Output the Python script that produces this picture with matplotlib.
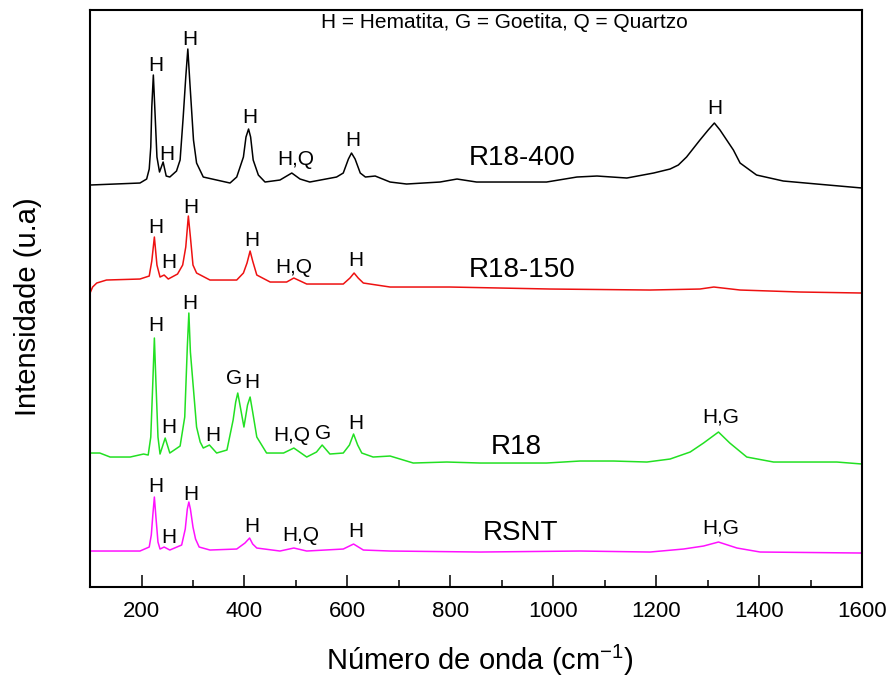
import matplotlib
matplotlib.use("Agg")
import matplotlib.pyplot as plt
from matplotlib.ticker import MultipleLocator

plt.rcParams['font.family'] = ['Liberation Sans', 'DejaVu Sans']
plt.rcParams['mathtext.fontset'] = 'custom'
plt.rcParams['mathtext.rm'] = 'Liberation Sans'
plt.rcParams['mathtext.it'] = 'Liberation Sans:italic'

# Raman spectra, vertically offset (wavenumber in cm-1, intensity in a.u.)
wn_r18_400 = [100, 197, 210, 215, 218, 220, 223, 226, 230, 235, 242, 248, 255, 268, 275,
              281, 286, 290, 294, 301, 307, 320, 372, 385, 398, 403, 408, 412, 417, 427,
              440, 469, 492, 508, 527, 579, 592, 602, 608, 615, 625, 635, 654, 683, 715,
              780, 813, 851, 922, 987, 1046, 1085, 1143, 1195, 1227, 1243, 1259, 1285,
              1301, 1313, 1324, 1337, 1350, 1363, 1395, 1447, 1512, 1600]
int_r18_400 = [402, 404, 408, 418, 440, 480, 512, 477, 430, 415, 425, 411, 410, 416, 427,
               470, 510, 538, 504, 447, 424, 410, 404, 410, 430, 450, 458, 450, 427, 412,
               405, 407, 414, 408, 405, 410, 414, 428, 434, 428, 414, 410, 411, 405, 403,
               405, 408, 405, 405, 405, 410, 411, 409, 414, 418, 422, 430, 447,
               457, 464, 457, 447, 437, 424, 412, 406, 403, 399]

wn_r18_150 = [100, 105, 113, 132, 197, 215, 220, 225, 230, 236, 244, 252, 270, 280, 286,
              291, 295, 300, 307, 333, 385, 398, 405, 411, 416, 424, 450, 482, 496, 521,
              592, 605, 613, 621, 631, 683, 799, 994, 1188, 1285, 1312, 1363, 1480, 1600]
int_r18_150 = [294, 300, 304, 307, 308, 311, 326, 350, 322, 310, 312, 308, 313, 322, 340,
               371, 350, 322, 314, 307, 307, 314, 324, 336, 326, 312, 305, 305, 309, 303,
               303, 309, 314, 309, 304, 300, 300, 298, 297, 298, 300, 297, 295, 294]

wn_r18 = [100, 119, 139, 178, 204, 213, 218, 222, 225, 228, 232, 236, 246, 255, 275,
          284, 289, 292, 295, 299, 303, 307, 314, 320, 332, 346, 366, 378, 383, 387,
          392, 399, 406, 411, 416, 424, 443, 476, 496, 521, 540, 551, 566, 592, 604,
          612, 620, 628, 650, 683, 728, 793, 858, 987, 1052, 1117, 1182, 1227, 1266,
          1292, 1321, 1343, 1376, 1428, 1551, 1600]
int_r18 = [134, 134, 130, 130, 133, 132, 150, 205, 249, 205, 150, 133, 149, 134, 141,
           170, 240, 274, 235, 210, 185, 160, 145, 139, 142, 134, 137, 167, 185, 194,
           180, 160, 182, 190, 175, 150, 134, 134, 139, 130, 135, 142, 133, 134, 142,
           153, 142, 134, 130, 131, 124, 125, 124, 124, 126, 126, 125, 128, 135,
           144, 155, 144, 130, 125, 125, 123]

wn_rsnt = [100, 197, 215, 219, 222, 225, 228, 232, 236, 244, 255, 278, 285, 289, 292,
           295, 300, 305, 312, 333, 385, 401, 410, 416, 424, 469, 496, 521, 592, 612,
           631, 683, 858, 1052, 1188, 1253, 1292, 1321, 1357, 1402, 1600]
int_rsnt = [36, 36, 40, 52, 72, 90, 70, 45, 38, 40, 37, 42, 58, 78, 85,
            78, 60, 48, 40, 37, 38, 44, 49, 43, 39, 36, 39, 36, 38, 43,
            37, 36, 35, 36, 35, 38, 41, 45, 39, 35, 34]

series_names = ['R18-400', 'R18-150', 'R18', 'RSNT']
series_colors = ['#000000', '#ee1111', '#22e022', '#ff11ff']

# Band assignments: (wavenumber, intensity, text)
bands_r18_400 = [(228, 522, 'H'), (250, 433, 'H'), (293, 548, 'H'), (411, 470, 'H'),
                 (500, 428, 'H,Q'), (610, 447, 'H'), (1314, 479, 'H')]
bands_r18_150 = [(228, 360, 'H'), (254, 325, 'H'), (296, 380, 'H'), (414, 347, 'H'),
                 (496, 320, 'H,Q'), (616, 327, 'H')]
bands_r18 = [(228, 262, 'H'), (293, 284, 'H'), (253, 160, 'H'), (338, 152, 'H'),
             (380, 209, 'G'), (414, 205, 'H'), (492, 152, 'H,Q'), (552, 154, 'G'),
             (616, 164, 'H'), (1325, 170, 'H,G')]
bands_rsnt = [(228, 101, 'H'), (253, 50, 'H'), (296, 93, 'H'), (415, 61, 'H'),
              (509, 52, 'H,Q'), (616, 56, 'H'), (1325, 59, 'H,G')]

# Sample name positions
name_pos = [(939, 429), (939, 317), (928, 140), (937, 54)]

fig = plt.figure(figsize=(8.95, 6.77), dpi=100)
ax = fig.add_axes([0.1006, 0.1329, 0.8626, 0.8523])

spectra = [(wn_r18_400, int_r18_400), (wn_r18_150, int_r18_150),
           (wn_r18, int_r18), (wn_rsnt, int_rsnt)]
for (wn, inten), col in zip(spectra, series_colors):
    ax.plot(wn, inten, color=col, lw=1.1, solid_joinstyle='round')

for bands in (bands_r18_400, bands_r18_150, bands_r18, bands_rsnt):
    for x, y, t in bands:
        ax.text(x, y, t, ha='center', va='center', fontsize=15)

for name, (x, y) in zip(series_names, name_pos):
    ax.text(x, y, name, ha='center', va='center', fontsize=20)

ax.text(906, 565, 'H = Hematita, G = Goetita, Q = Quartzo',
        ha='center', va='center', fontsize=15)

ax.set_xlim(100, 1600)
ax.set_ylim(0, 577)
ax.xaxis.set_major_locator(MultipleLocator(200))
ax.xaxis.set_minor_locator(MultipleLocator(100))
ax.set_yticks([])
ax.tick_params(axis='x', which='major', direction='in', length=9, width=1.1,
               labelsize=16, pad=10, top=False)
ax.tick_params(axis='x', which='minor', direction='in', length=5, width=1.1, top=False)
for sp in ax.spines.values():
    sp.set_linewidth(1.5)

ax.set_xlabel('Número de onda (cm$^{\\mathrm{-1}}$)', fontsize=21, va='center')
ax.xaxis.set_label_coords(0.505, -0.1265)
ax.set_ylabel('Intensidade (u.a)', fontsize=21, va='center')
ax.yaxis.set_label_coords(-0.080, 0.485)

fig.savefig('out.png', dpi=100)
